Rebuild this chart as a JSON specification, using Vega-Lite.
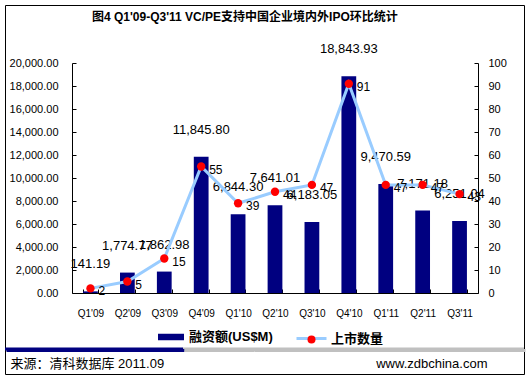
{
  "$schema": "https://vega.github.io/schema/vega-lite/v6.json",
  "width": 519,
  "height": 369,
  "autosize": {"type": "none"},
  "padding": {"left": 5, "top": 5, "right": 8, "bottom": 4},
  "background": "white",
  "title": {
    "text": "图4  Q1'09-Q3'11 VC/PE支持中国企业境内外IPO环比统计",
    "anchor": "start",
    "frame": "group",
    "dx": 87,
    "offset": -19,
    "fontSize": 12,
    "fontWeight": "bold",
    "font": "Liberation Sans, Noto Sans CJK SC",
    "color": "black"
  },
  "data": {
    "values": [
      {"q": "Q1'09", "amount": 141.19, "count": 2},
      {"q": "Q2'09", "amount": 1774.77, "count": 5},
      {"q": "Q3'09", "amount": 1862.98, "count": 15},
      {"q": "Q4'09", "amount": 11845.80, "count": 55},
      {"q": "Q1'10", "amount": 6844.30, "count": 39},
      {"q": "Q2'10", "amount": 7641.01, "count": 44},
      {"q": "Q3'10", "amount": 6183.05, "count": 47},
      {"q": "Q4'10", "amount": 18843.93, "count": 91},
      {"q": "Q1'11", "amount": 9470.59, "count": 47},
      {"q": "Q2'11", "amount": 7171.18, "count": 47},
      {"q": "Q3'11", "amount": 6251.04, "count": 43}
    ]
  },
  "layer": [
    {
      "data": {"values": [{"part": "source"}]},
      "mark": {"type": "rule", "color": "#000080", "strokeWidth": 3},
      "encoding": {
        "x": {"datum": 0, "type": "quantitative", "scale": {"domain": [0, 1], "range": [0, 178]}, "axis": null},
        "x2": {"datum": 1},
        "y": {"datum": 0, "type": "quantitative", "scale": {"domain": [0, 1], "range": [344, 0]}, "axis": null},
        "strokeDash": {
          "datum": "a",
          "type": "nominal",
          "scale": {"range": [[1, 0]]},
          "legend": {
            "orient": "none",
            "legendX": 0,
            "legendY": 255,
            "title": null,
            "padding": 0,
            "zindex": 3,
            "symbolType": "stroke",
            "symbolSize": 31684,
            "symbolStrokeColor": "#000080",
            "symbolStrokeWidth": 3,
            "labelExpr": "''",
            "labelOffset": 0,
            "labelFontSize": 1
          }
        }
      }
    },
    {
      "data": {"values": [{"part": "site"}]},
      "mark": {"type": "rule", "color": "#C0C0C0", "strokeWidth": 3},
      "encoding": {
        "x": {"datum": 0, "type": "quantitative", "scale": {"domain": [0, 1], "range": [178, 519]}, "axis": null},
        "x2": {"datum": 1},
        "y": {"datum": 0, "type": "quantitative", "scale": {"domain": [0, 1], "range": [344, 0]}, "axis": null},
        "strokeDash": {
          "datum": "b",
          "type": "nominal",
          "scale": {"range": [[1, 0]]},
          "legend": {
            "orient": "none",
            "legendX": 178,
            "legendY": 173.5,
            "title": null,
            "padding": 0,
            "zindex": 3,
            "symbolType": "stroke",
            "symbolSize": 116281,
            "symbolStrokeColor": "#C0C0C0",
            "symbolStrokeWidth": 3,
            "labelExpr": "''",
            "labelOffset": 0,
            "labelFontSize": 1
          }
        }
      }
    },
    {
      "mark": {"type": "bar"},
      "encoding": {
        "x": {
          "field": "q", "type": "ordinal", "sort": null,
          "scale": {"range": [67, 473], "paddingInner": 0.6, "paddingOuter": 0.3},
          "axis": {
            "orient": "bottom",
            "offset": -81,
            "labelAngle": 0,
            "labelFontSize": 10,
            "labelPadding": 19,
            "tickSize": -4,
            "tickBand": "extent",
            "title": "来源：清科数据库 2011.09",
            "titleX": 5,
            "titleY": 70,
            "titleAlign": "left",
            "titleAnchor": null,
            "titleBaseline": "middle",
            "titleFontSize": 13,
            "titleFontWeight": "normal"
          }
        },
        "y": {
          "field": "amount", "type": "quantitative",
          "scale": {"domain": [0, 20000], "range": [288, 58], "nice": false},
          "axis": {
            "orient": "left",
            "offset": -67,
            "format": ",.2f",
            "values": [0, 2000, 4000, 6000, 8000, 10000, 12000, 14000, 16000, 18000, 20000],
            "tickSize": -4,
            "labelPadding": 18,
            "labelFontSize": 11,
            "title": null
          }
        },
        "fill": {
          "datum": "融资额(US$M)",
          "type": "nominal",
          "scale": {"range": ["#000080"]},
          "legend": {
            "orient": "none",
            "legendX": 153,
            "legendY": 319,
            "title": null,
            "padding": 0,
            "symbolType": "M-1,-0.25H1V0.25H-1Z",
            "symbolSize": 676,
            "symbolStrokeWidth": 0,
            "labelOffset": 5,
            "labelFontSize": 13,
            "labelFontWeight": "bold"
          }
        }
      }
    },
    {
      "mark": {"type": "text", "baseline": "bottom", "dy": -20, "fontSize": 13, "color": "black"},
      "encoding": {
        "x": {"field": "q", "type": "ordinal", "sort": null, "scale": {"range": [67, 473], "paddingInner": 0.6, "paddingOuter": 0.3}, "axis": null},
        "y": {"field": "amount", "type": "quantitative", "scale": {"domain": [0, 20000], "range": [288, 58], "nice": false}, "axis": null},
        "text": {"field": "amount", "type": "quantitative", "format": ",.2f"}
      }
    },
    {
      "mark": {"type": "line", "strokeWidth": 3},
      "encoding": {
        "x": {"field": "q", "type": "ordinal", "sort": null, "scale": {"range": [67, 473], "paddingInner": 0.6, "paddingOuter": 0.3}, "axis": null},
        "y": {
          "field": "count", "type": "quantitative",
          "scale": {"domain": [0, 100], "range": [288, 58], "nice": false},
          "axis": {
            "orient": "right",
            "offset": -46,
            "values": [0, 10, 20, 30, 40, 50, 60, 70, 80, 90, 100],
            "tickSize": -4,
            "labelPadding": 14,
            "labelFontSize": 11,
            "title": "www.zdbchina.com",
            "titleAngle": 0,
            "titleX": 9,
            "titleY": 358,
            "titleAlign": "right",
            "titleAnchor": null,
            "titleBaseline": "middle",
            "titleFontSize": 13,
            "titleFontWeight": "normal"
          }
        },
        "stroke": {
          "datum": "上市数量",
          "type": "nominal",
          "scale": {"range": ["#99CCFF"]},
          "legend": {
            "orient": "none",
            "legendX": 290,
            "legendY": 317,
            "title": null,
            "padding": 0,
            "symbolType": "stroke",
            "symbolSize": 900,
            "symbolStrokeWidth": 3,
            "labelOffset": 3,
            "labelFontSize": 13,
            "labelFontWeight": "bold"
          }
        }
      }
    },
    {
      "mark": {"type": "point", "filled": true, "color": "#FF0000", "size": 70, "opacity": 1},
      "encoding": {
        "x": {"field": "q", "type": "ordinal", "sort": null, "scale": {"range": [67, 473], "paddingInner": 0.6, "paddingOuter": 0.3}, "axis": null},
        "y": {"field": "count", "type": "quantitative", "scale": {"domain": [0, 100], "range": [288, 58], "nice": false}, "axis": null},
        "shape": {
          "datum": "dot",
          "type": "nominal",
          "scale": {"range": ["circle"]},
          "legend": {
            "orient": "none",
            "legendX": 300,
            "legendY": 328,
            "title": null,
            "padding": 0,
            "zindex": 2,
            "symbolSize": 64,
            "symbolFillColor": "#FF0000",
            "symbolStrokeWidth": 0,
            "labelExpr": "''",
            "labelFontSize": 13
          }
        }
      }
    },
    {
      "mark": {"type": "text", "align": "left", "baseline": "middle", "dx": 8, "dy": 3, "fontSize": 12, "color": "black"},
      "encoding": {
        "x": {"field": "q", "type": "ordinal", "sort": null, "scale": {"range": [67, 473], "paddingInner": 0.6, "paddingOuter": 0.3}, "axis": null},
        "y": {"field": "count", "type": "quantitative", "scale": {"domain": [0, 100], "range": [288, 58], "nice": false}, "axis": null},
        "text": {"field": "count", "type": "quantitative"}
      }
    }
  ],
  "resolve": {
    "scale": {"x": "independent", "y": "independent", "strokeDash": "independent"},
    "axis": {"x": "independent", "y": "independent"},
    "legend": {"strokeDash": "independent"}
  },
  "config": {
    "view": {"stroke": "black", "strokeWidth": 1},
    "font": "Liberation Sans, Noto Sans CJK SC",
    "axis": {
      "grid": false,
      "domainColor": "black",
      "tickColor": "black",
      "labelColor": "black",
      "titleColor": "black",
      "labelFont": "Liberation Sans, Noto Sans CJK SC",
      "titleFont": "Liberation Sans, Noto Sans CJK SC"
    },
    "legend": {
      "labelColor": "black",
      "labelFont": "Liberation Sans, Noto Sans CJK SC"
    },
    "text": {"font": "Liberation Sans, Noto Sans CJK SC"}
  }
}
